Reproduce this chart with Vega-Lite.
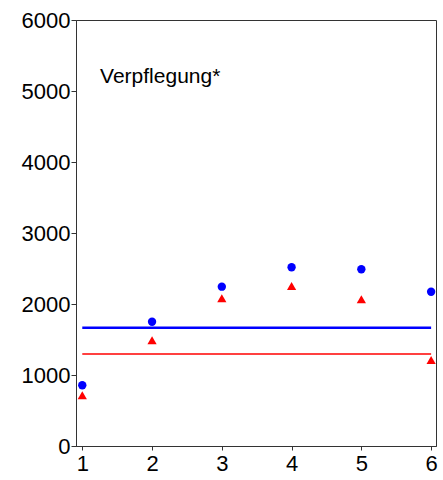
{
  "$schema": "https://vega.github.io/schema/vega-lite/v6.json",
  "width": 360,
  "height": 426,
  "autosize": "none",
  "padding": {"left": 76, "top": 20, "right": 7, "bottom": 34},
  "background": "white",
  "config": {
    "view": {"stroke": "#333333", "strokeWidth": 1},
    "axis": {
      "grid": false,
      "domainColor": "#333333",
      "tickColor": "#333333",
      "labelFont": "Liberation Sans",
      "labelFontSize": 22,
      "labelColor": "black",
      "title": null
    }
  },
  "datasets": {
    "points": [
      {"x": 1, "y": 855, "series": "A"},
      {"x": 2, "y": 1750, "series": "A"},
      {"x": 3, "y": 2244, "series": "A"},
      {"x": 4, "y": 2517, "series": "A"},
      {"x": 5, "y": 2489, "series": "A"},
      {"x": 6, "y": 2173, "series": "A"},
      {"x": 1, "y": 714, "series": "B"},
      {"x": 2, "y": 1489, "series": "B"},
      {"x": 3, "y": 2080, "series": "B"},
      {"x": 4, "y": 2254, "series": "B"},
      {"x": 5, "y": 2066, "series": "B"},
      {"x": 6, "y": 1211, "series": "B"}
    ],
    "means": [
      {"x": 1, "x2": 6, "y": 1666, "series": "A", "w": 2.5},
      {"x": 1, "x2": 6, "y": 1296, "series": "B", "w": 1.5}
    ],
    "label": [
      {"x": 1.255, "y": 5200, "text": "Verpflegung*"}
    ]
  },
  "layer": [
    {
      "data": {"name": "means"},
      "mark": {"type": "rule"},
      "encoding": {
        "x": {"field": "x", "type": "quantitative", "scale": {"domain": [0.91, 6.07], "nice": false, "zero": false},
              "axis": {"values": [1, 2, 3, 4, 5, 6], "tickSize": 4, "labelPadding": 3, "format": "d", "labelFlush": false}},
        "x2": {"field": "x2"},
        "y": {"field": "y", "type": "quantitative", "scale": {"domain": [0, 6000], "nice": false},
              "axis": {"values": [0, 1000, 2000, 3000, 4000, 5000, 6000], "tickSize": 5, "labelPadding": 1, "format": "d", "labelFlush": false}},
        "color": {"field": "series", "type": "nominal", "scale": {"domain": ["A", "B"], "range": ["#0000FF", "#FF0000"]}, "legend": null},
        "strokeWidth": {"field": "w", "type": "quantitative", "scale": null, "legend": null}
      }
    },
    {
      "data": {"name": "points"},
      "mark": {"type": "point", "filled": true, "opacity": 1},
      "encoding": {
        "x": {"field": "x", "type": "quantitative"},
        "y": {"field": "y", "type": "quantitative"},
        "color": {"field": "series", "type": "nominal", "legend": null},
        "shape": {"field": "series", "type": "nominal", "scale": {"domain": ["A", "B"], "range": ["circle", "triangle-up"]}, "legend": null},
        "size": {"field": "series", "type": "nominal", "scale": {"domain": ["A", "B"], "range": [70, 85]}, "legend": null}
      }
    },
    {
      "data": {"name": "label"},
      "mark": {"type": "text", "align": "left", "baseline": "middle", "font": "Liberation Sans", "fontSize": 21, "color": "black"},
      "encoding": {
        "x": {"field": "x", "type": "quantitative"},
        "y": {"field": "y", "type": "quantitative"},
        "text": {"field": "text"}
      }
    }
  ]
}
